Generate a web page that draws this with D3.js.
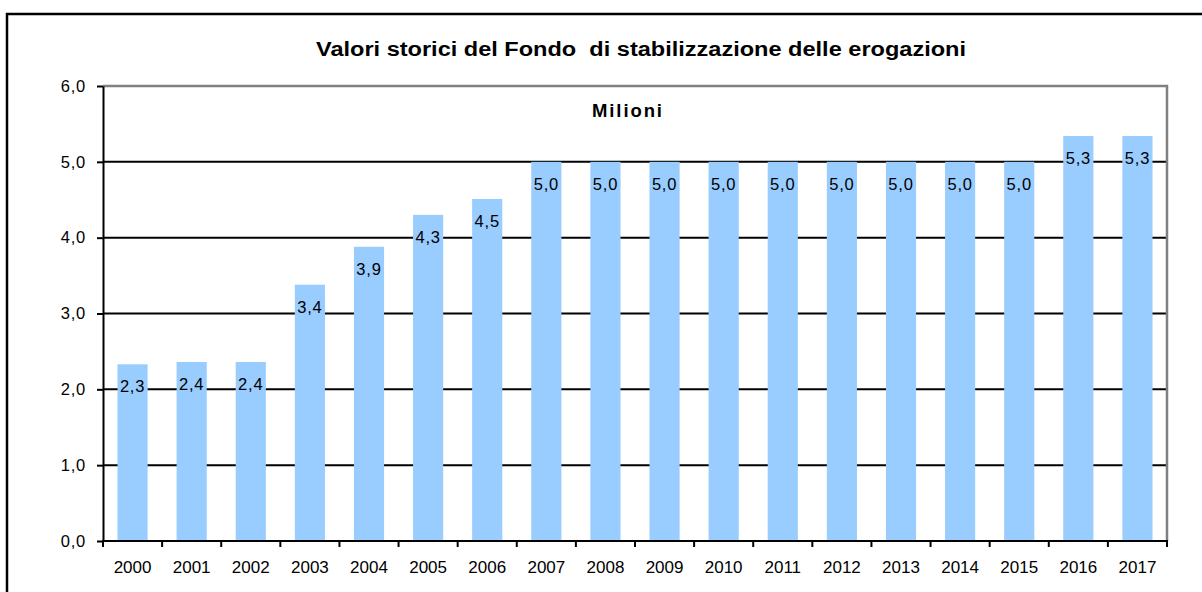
<!DOCTYPE html>
<html>
<head>
<meta charset="utf-8">
<script src="https://cdn.jsdelivr.net/npm/d3@7"></script>
<style>
  body { margin: 0; background: #fff; }
  text { font-family: "Liberation Sans", Arial, sans-serif; }
</style>
</head>
<body>
<div id="chart"></div>
<script>
// Fondo di stabilizzazione delle erogazioni, bar chart

const years = ['2000', '2001', '2002', '2003', '2004', '2005', '2006', '2007', '2008',
    '2009', '2010', '2011', '2012', '2013', '2014', '2015', '2016', '2017'];
const values = [2.33, 2.36, 2.36, 3.38, 3.88, 4.30, 4.51, 5.0, 5.0,
    5.0, 5.0, 5.0, 5.0, 5.0, 5.0, 5.0, 5.34, 5.34];
const yTicks = [0, 1, 2, 3, 4, 5, 6];

const titleText = 'Valori storici del Fondo  di stabilizzazione delle erogazioni';
const unitText = 'Milioni';

// italian number format, comma as decimal
var it = d3.formatLocale({decimal: ',', thousands: '.', grouping: [3], currency: ['€', '']});
var fmt = it.format('.1f');

const plotLeft = 103, plotRight = 1167, plotTop = 86, plotBottom = 541;

var svg = d3.select('#chart').append('svg')
    .attr('width', 1202)
    .attr('height', 592);

// outer frame (runs off the picture at right/bottom)
svg.append('rect')
    .attr('x', 7).attr('y', 14)
    .attr('width', 1400).attr('height', 800)
    .attr('fill', 'none')
    .attr('stroke', '#000')
    .attr('stroke-width', 2.5);

var xScale = d3.scaleBand().domain(years).range([plotLeft, plotRight])
    .paddingInner(0.49).paddingOuter(0.245);
var yScale = d3.scaleLinear().domain([0, 6]).range([plotBottom, plotTop]);

// gridlines
svg.append('g')
    .selectAll('line')
    .data(yTicks.filter(function(d) { return d > 0 && d < 6; }))
    .enter()
    .append('line')
    .attr('x1', plotLeft).attr('x2', plotRight)
    .attr('y1', function(d) { return yScale(d); })
    .attr('y2', function(d) { return yScale(d); })
    .attr('stroke', '#000')
    .attr('stroke-width', 2);

// plot area border top / right (gray)
svg.append('path')
    .attr('d', 'M' + plotLeft + ',' + yScale(6) + 'H' + plotRight + 'V' + plotBottom)
    .attr('fill', 'none')
    .attr('stroke', '#808080')
    .attr('stroke-width', 2.5);

// bars
svg.selectAll('.bar')
    .data(years)
    .enter()
    .append('rect')
    .attr('class', 'bar')
    .attr('x', function(d) { return xScale(d); })
    .attr('y', function(d, i) { return yScale(values[i]); })
    .attr('width', xScale.bandwidth())
    .attr('height', function(d, i) { return plotBottom - yScale(values[i]); })
    .attr('fill', '#99ccff');

// value labels
svg.selectAll('.lbl')
    .data(years)
    .enter()
    .append('text')
    .attr('class', 'lbl')
    .attr('x', function(d) { return xScale(d) + xScale.bandwidth() / 2; })
    .attr('y', function(d, i) { return yScale(values[i]) + 28; })
    .attr('text-anchor', 'middle')
    .attr('font-size', '16.5px')
    .attr('letter-spacing', '0.8px')
    .attr('fill', '#000')
    .text(function(d, i) { return fmt(values[i]); });

// y axis
var yAxis = svg.append('g')
    .attr('transform', 'translate(' + plotLeft + ',0)')
    .call(d3.axisLeft(yScale).tickValues(yTicks).tickFormat(fmt)
        .tickSizeInner(6).tickSizeOuter(0).tickPadding(11));
yAxis.select('.domain').attr('stroke', '#000').attr('stroke-width', 2);
yAxis.selectAll('.tick line').attr('stroke', '#000').attr('stroke-width', 2);
yAxis.selectAll('text')
    .attr('font-size', '16.5px')
    .attr('letter-spacing', '0.8px')
    .attr('fill', '#000')
    .attr('font-family', '"Liberation Sans", Arial, sans-serif');

// x axis: labels only, ticks drawn on band edges
var xAxis = svg.append('g')
    .attr('transform', 'translate(0,' + plotBottom + ')')
    .call(d3.axisBottom(xScale).tickSize(0).tickPadding(20));
xAxis.select('.domain').remove();
xAxis.selectAll('text')
    .attr('font-size', '17px')
    .attr('fill', '#000')
    .attr('font-family', '"Liberation Sans", Arial, sans-serif');

var edges = d3.range(years.length + 1).map(function(i) { return plotLeft + i * xScale.step(); });
svg.append('g')
    .selectAll('line')
    .data(edges)
    .enter()
    .append('line')
    .attr('x1', function(d) { return d; }).attr('x2', function(d) { return d; })
    .attr('y1', plotBottom).attr('y2', plotBottom + 6)
    .attr('stroke', '#000')
    .attr('stroke-width', 2);

svg.append('line')
    .attr('x1', plotLeft - 1).attr('x2', plotRight + 1)
    .attr('y1', plotBottom).attr('y2', plotBottom)
    .attr('stroke', '#000')
    .attr('stroke-width', 2);

// title and unit
svg.append('text')
    .attr('x', 316)
    .attr('y', 56)
    .attr('font-size', '19.5px')
    .attr('font-weight', 'bold')
    .attr('textLength', 650)
    .attr('lengthAdjust', 'spacingAndGlyphs')
    .style('white-space', 'pre')
    .text(titleText);

svg.append('text')
    .attr('x', 592)
    .attr('y', 117)
    .attr('font-size', '18.5px')
    .attr('font-weight', 'bold')
    .attr('textLength', 70)
    .text(unitText);
</script>
</body>
</html>
